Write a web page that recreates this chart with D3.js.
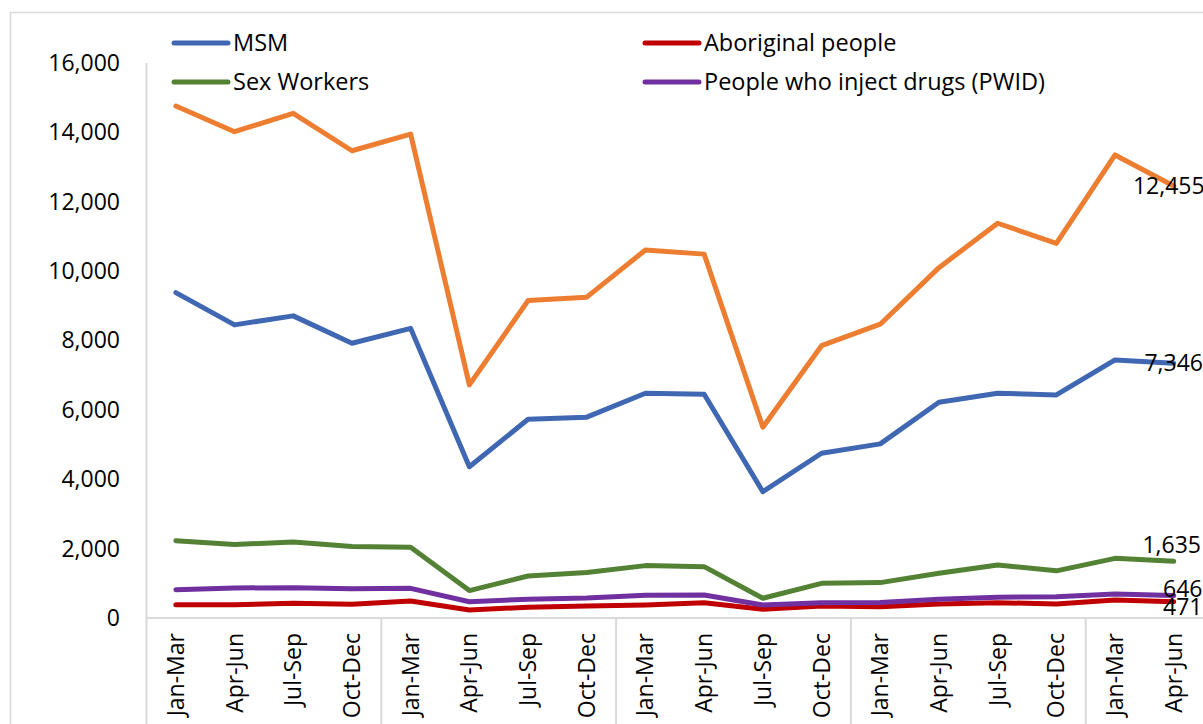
<!DOCTYPE html>
<html>
<head>
<meta charset="utf-8">
<script src="https://cdn.jsdelivr.net/npm/d3@7"></script>
<style>
  html, body { margin: 0; padding: 0; background: #fff; overflow: hidden; }
  svg { display: block; font-family: "Open Sans", "Liberation Sans", sans-serif; }
</style>
</head>
<body>
<svg id="chart" width="1203" height="724"></svg>
<script>
// Quarterly categories (four full years, then two quarters)
const quarters = [
  "Jan-Mar", "Apr-Jun", "Jul-Sep", "Oct-Dec",
  "Jan-Mar", "Apr-Jun", "Jul-Sep", "Oct-Dec",
  "Jan-Mar", "Apr-Jun", "Jul-Sep", "Oct-Dec",
  "Jan-Mar", "Apr-Jun", "Jul-Sep", "Oct-Dec",
  "Jan-Mar", "Apr-Jun"
];

// Series values per quarter
const msm        = [9380, 8450, 8710, 7920, 8350, 4360, 5730, 5790, 6480, 6450, 3640, 4750, 5020, 6220, 6480, 6430, 7440, 7346];
const aboriginal = [385, 385, 425, 395, 490, 230, 310, 345, 375, 440, 250, 345, 325, 405, 440, 405, 520, 471];
const sexWorkers = [2230, 2120, 2190, 2060, 2040, 790, 1210, 1310, 1510, 1480, 570, 1000, 1020, 1290, 1530, 1360, 1720, 1635];
const pwid       = [815, 865, 875, 845, 855, 470, 540, 575, 655, 665, 375, 440, 450, 540, 600, 615, 690, 646];
const total      = [14760, 14020, 14550, 13470, 13950, 6720, 9150, 9250, 10610, 10490, 5500, 7850, 8470, 10100, 11380, 10800, 13350, 12455];

// Y axis ticks
const yTicks = [0, 2000, 4000, 6000, 8000, 10000, 12000, 14000, 16000];

const series = [
  { name: "MSM", values: msm, color: "#4068B2", legend: true, labelDx: 0, labelDy: 0 },
  { name: "Aboriginal people", values: aboriginal, color: "#C00000", legend: true, labelDx: 9, labelDy: 5 },
  { name: "Sex Workers", values: sexWorkers, color: "#548235", legend: true, labelDx: -2, labelDy: -16 },
  { name: "People who inject drugs (PWID)", values: pwid, color: "#7030A0", legend: true, labelDx: 9, labelDy: -7 },
  { name: "Total", values: total, color: "#ED7D31", legend: false, labelDx: -5, labelDy: 0 }
];

const svg = d3.select("#chart");
const W = 1203, H = 724;
const plot = { left: 146.5, right: 1203.1, top: 63, bottom: 618 };
const grey = "#d9d9d9";
const fontSize = 23;

// Outer chart border
svg.append("rect")
  .attr("x", 10.5).attr("y", 12.5)
  .attr("width", W).attr("height", H)
  .attr("fill", "none").attr("stroke", grey).attr("stroke-width", 1.5);

const x = d3.scaleBand()
  .domain(d3.range(quarters.length))
  .range([plot.left, plot.right])
  .paddingInner(0).paddingOuter(0);

const y = d3.scaleLinear().domain([0, 16000]).range([plot.bottom, plot.top]);

const cx = i => x(i) + x.bandwidth() / 2;

// Y axis labels
const yAxis = d3.axisLeft(y).tickValues(yTicks).tickSize(0).tickPadding(0)
  .tickFormat(d3.format(","));
const yG = svg.append("g").attr("transform", `translate(120,0)`).call(yAxis);
yG.select(".domain").remove();
yG.selectAll("text")
  .attr("font-size", fontSize)
  .attr("font-family", "'Open Sans', sans-serif")
  .attr("fill", "#000");

// Vertical axis line (extends down through the category area)
svg.append("line")
  .attr("x1", plot.left).attr("x2", plot.left)
  .attr("y1", plot.top).attr("y2", H)
  .attr("stroke", grey).attr("stroke-width", 2);

// Horizontal category axis
svg.append("line")
  .attr("x1", plot.left).attr("x2", W)
  .attr("y1", plot.bottom).attr("y2", plot.bottom)
  .attr("stroke", grey).attr("stroke-width", 2);

// Year group separators
const sep = d3.range(4, quarters.length, 4);
svg.selectAll("line.sep").data(sep).enter().append("line")
  .attr("class", "sep")
  .attr("x1", i => x(i)).attr("x2", i => x(i))
  .attr("y1", plot.bottom).attr("y2", H)
  .attr("stroke", grey).attr("stroke-width", 2);

// Rotated quarter labels
svg.selectAll("text.q").data(quarters).enter().append("text")
  .attr("class", "q")
  .attr("transform", (d, i) => `translate(${cx(i) + 8},633) rotate(-90)`)
  .attr("text-anchor", "end")
  .attr("font-size", fontSize)
  .attr("fill", "#000")
  .text(d => d);

// Series lines
const line = d3.line().x((d, i) => cx(i)).y(d => y(d));
svg.selectAll("path.series").data(series).enter().append("path")
  .attr("class", "series")
  .attr("d", s => line(s.values))
  .attr("fill", "none")
  .attr("stroke", s => s.color)
  .attr("stroke-width", 5)
  .attr("stroke-linejoin", "round")
  .attr("stroke-linecap", "round");

// End-of-series value labels
const last = quarters.length - 1;
svg.selectAll("text.val").data(series).enter().append("text")
  .attr("class", "val")
  .attr("x", s => cx(last) + s.labelDx)
  .attr("y", s => y(s.values[last]) + s.labelDy)
  .attr("dy", "0.35em")
  .attr("text-anchor", "middle")
  .attr("font-size", fontSize)
  .attr("fill", "#000")
  .text(s => d3.format(",")(s.values[last]));

// Legend (two columns)
const legendItems = series.filter(s => s.legend);
const legendPos = [
  { x: 174, y: 43 }, { x: 645, y: 43 },
  { x: 174, y: 82 }, { x: 645, y: 82 }
];
const lg = svg.selectAll("g.legend").data(legendItems).enter().append("g")
  .attr("class", "legend")
  .attr("transform", (d, i) => `translate(${legendPos[i].x},${legendPos[i].y})`);
lg.append("line")
  .attr("x1", 0).attr("x2", 54)
  .attr("stroke", d => d.color).attr("stroke-width", 5)
  .attr("stroke-linecap", "round");
lg.append("text")
  .attr("x", 59).attr("dy", "0.35em")
  .attr("font-size", 23.5)
  .attr("fill", "#000")
  .text(d => d.name);
</script>
</body>
</html>
